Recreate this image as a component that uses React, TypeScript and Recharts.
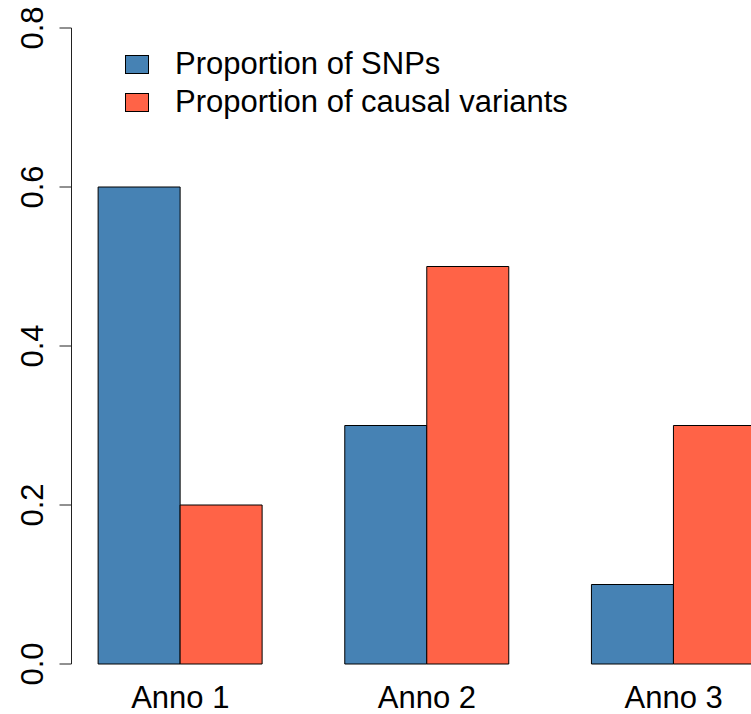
import { BarChart, Bar, XAxis, YAxis, Legend } from "recharts";

const categories = ["Anno 1", "Anno 2", "Anno 3"];
const snpProportion = [0.6, 0.3, 0.1];
const causalProportion = [0.2, 0.5, 0.3];
const yTicks = [0, 0.2, 0.4, 0.6, 0.8];

const data = categories.map((name, i) => ({
  name,
  snps: snpProportion[i],
  causal: causalProportion[i],
}));

const FONT = '"Liberation Sans", Arial, Helvetica, sans-serif';

const RotatedTick = ({ x, y, payload }: any) => (
  <text
    x={x}
    y={y}
    transform={`rotate(-90, ${x}, ${y})`}
    textAnchor="middle"
    fill="#000"
    fontSize={31}
    fontFamily={FONT}
  >
    {Number(payload.value).toFixed(1)}
  </text>
);

const LegendBox = ({ payload }: any) => (
  <div style={{ fontFamily: FONT, fontSize: 31, color: "#000" }}>
    {(payload || []).map((entry: any) => (
      <div
        key={entry.value}
        style={{ display: "flex", alignItems: "center", height: 38 }}
      >
        <span
          style={{
            display: "inline-block",
            width: 22,
            height: 17,
            background: entry.color,
            border: "1px solid #000",
            marginRight: 26,
          }}
        />
        <span style={{ lineHeight: "38px", whiteSpace: "nowrap" }}>{entry.value}</span>
      </div>
    ))}
  </div>
);

export default function App() {
  return (
    <div
      style={{
        position: "fixed",
        left: 0,
        top: 0,
        width: 751,
        height: 714,
        overflow: "hidden",
        background: "#fff",
        fontFamily: FONT,
      }}
    >
      <BarChart
        width={820}
        height={714}
        data={data}
        margin={{ top: 28, right: 23, bottom: 0, left: 0 }}
        barCategoryGap="16.667%"
        barGap={0}
      >
        <XAxis
          dataKey="name"
          axisLine={false}
          tickLine={false}
          tickSize={0}
          tickMargin={22}
          height={50}
          padding={{ left: -14.5, right: 0 }}
          tick={{ fill: "#000", fontSize: 31, fontFamily: FONT }}
          interval={0}
        />
        <YAxis
          width={71.5}
          domain={[0, 0.8]}
          ticks={yTicks}
          tickSize={12}
          tickMargin={16.5}
          axisLine={{ stroke: "#222" }}
          tickLine={{ stroke: "#222" }}
          tick={<RotatedTick />}
          interval={0}
        />
        <Legend
          layout="vertical"
          align="center"
          verticalAlign="middle"
          wrapperStyle={{ left: 125, top: 45, width: 500 }}
          content={<LegendBox />}
        />
        <Bar
          dataKey="snps"
          name="Proportion of SNPs"
          fill="#4682B4"
          stroke="#000"
          strokeWidth={1}
          isAnimationActive={false}
        />
        <Bar
          dataKey="causal"
          name="Proportion of causal variants"
          fill="#FF6347"
          stroke="#000"
          strokeWidth={1}
          isAnimationActive={false}
        />
      </BarChart>
    </div>
  );
}
